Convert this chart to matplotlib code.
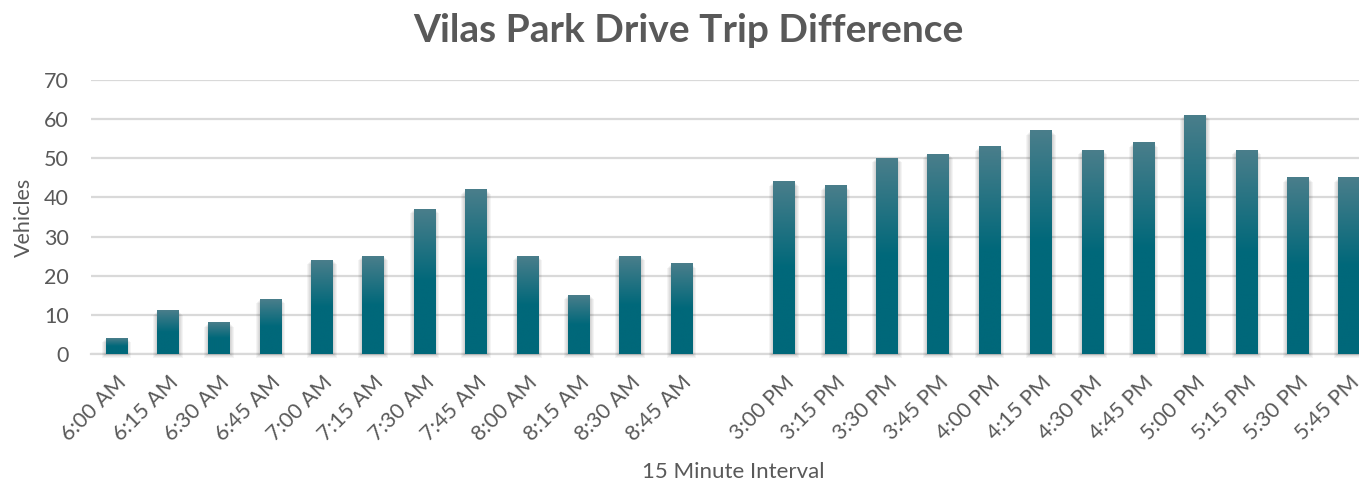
import numpy as np
import matplotlib.pyplot as plt
from matplotlib.colors import LinearSegmentedColormap
from matplotlib.patches import Rectangle

# 15-minute intervals, blank slot separates morning and afternoon
am_labels = ['6:00 AM', '6:15 AM', '6:30 AM', '6:45 AM', '7:00 AM', '7:15 AM',
             '7:30 AM', '7:45 AM', '8:00 AM', '8:15 AM', '8:30 AM', '8:45 AM']
pm_labels = ['3:00 PM', '3:15 PM', '3:30 PM', '3:45 PM', '4:00 PM', '4:15 PM',
             '4:30 PM', '4:45 PM', '5:00 PM', '5:15 PM', '5:30 PM', '5:45 PM']
am_vehicles = [4, 11, 8, 14, 24, 25, 37, 42, 25, 15, 25, 23]
pm_vehicles = [44, 43, 50, 51, 53, 57, 52, 54, 61, 52, 45, 45]

labels = am_labels + [''] + pm_labels
values = am_vehicles + [np.nan] + pm_vehicles

TEXT = '#595959'
GRID = '#d9d9d9'
plt.rcParams['font.family'] = ['Lato', 'DejaVu Sans']

fig = plt.figure(figsize=(13.59, 4.82), dpi=100)
ax = fig.add_axes([90.8 / 1359, 128 / 482, 1284 / 1359, 274 / 482])

x = np.arange(len(labels))
bars = ax.bar(x, values, width=0.42, color='none', edgecolor='none', zorder=3)

# vertical gradient: lighter grey-teal at the top, dark teal from mid-bar down
cmap = LinearSegmentedColormap.from_list(
    'teal', [(0.0, '#00687a'), (0.5, '#00687a'), (1.0, '#4a7e8b')])
grad = np.linspace(0, 1, 256).reshape(-1, 1)
px_x = 1 / 51.36
px_y = 1 / 3.914
for b in bars:
    h = b.get_height()
    if not np.isfinite(h):
        continue
    x0, w = b.get_x(), b.get_width()
    # soft shadow around the bar
    for k in range(1, 5):
        ax.add_patch(Rectangle((x0 - k * px_x, -k * px_y),
                               w + 2 * k * px_x, h,
                               facecolor='black', edgecolor='none',
                               alpha=0.045, zorder=2, clip_on=False))
    ax.imshow(grad, extent=[x0, x0 + w, 0, h], origin='lower', cmap=cmap,
              aspect='auto', zorder=3, interpolation='bilinear')

ax.set_xlim(-0.5, len(labels) - 0.5)
ax.set_ylim(0, 70)
ax.set_yticks(range(0, 71, 10))
ax.yaxis.grid(True, color=GRID, linewidth=1.6, zorder=0)
ax.set_axisbelow(True)
for s in ['top', 'right', 'left']:
    ax.spines[s].set_visible(False)
ax.spines['bottom'].set_color(GRID)
ax.spines['bottom'].set_linewidth(1.6)
ax.spines['bottom'].set_zorder(1)

ax.set_xticks(x)
ax.set_xticklabels(labels, rotation=45, ha='right', va='top',
                   rotation_mode='anchor', fontsize=15.5, color=TEXT)
ax.tick_params(axis='x', length=0, pad=13)
ax.tick_params(axis='y', length=0, pad=16, labelsize=15.5, labelcolor=TEXT)

ax.set_xlabel('15 Minute Interval', fontsize=16, color=TEXT, va='baseline')
ax.xaxis.set_label_coords(0.5, (354 - 478) / 274)
ax.set_ylabel('Vehicles', fontsize=15.5, color=TEXT, va='center')
ax.yaxis.set_label_coords((23.5 - 90.8) / 1284, 0.5)

fig.text(688 / 1359, 1 - 42 / 482, 'Vilas Park Drive Trip Difference',
         ha='center', va='baseline', fontsize=28, fontweight='bold', color=TEXT)

fig.savefig('out.png', dpi=100)
